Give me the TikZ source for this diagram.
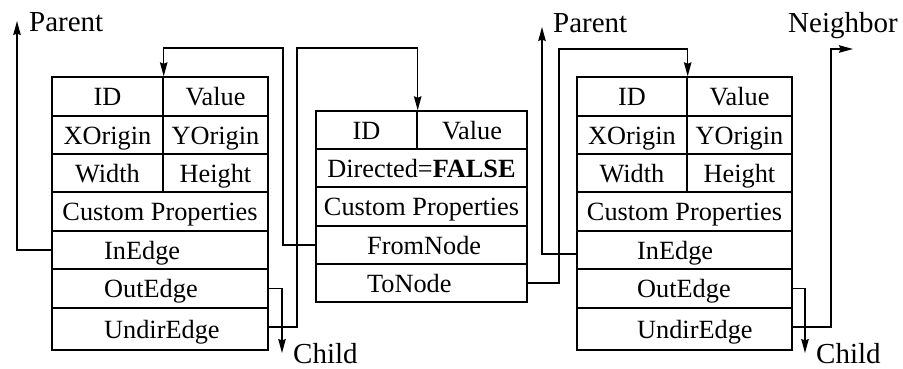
\documentclass[tikz,border=0pt]{standalone}
\usepackage{fontspec}
\setmainfont{Liberation Serif}
\usetikzlibrary{arrows.meta,calc}
\tikzset{
  ln/.style={line width=1.4pt},
  cell/.style={draw, ln, inner sep=0pt, font=\fontsize{26.3pt}{30pt}\selectfont,
    text height=19pt, text depth=1pt},
  txt/.style={inner sep=0pt, anchor=base west, font=\fontsize{26.3pt}{30pt}\selectfont},
  lbl/.style={inner sep=0pt, anchor=base west, text depth=0pt, font=\fontsize{29pt}{33pt}\selectfont},
  wire/.style={ln},
  arr/.style={ln, -{Stealth[length=14pt,width=7.5pt,inset=1.5pt]}},
}
\newcommand{\cellat}[6]{% name, cx, cy, w, h, text
  \node[cell, minimum width=#4pt, minimum height=#5pt] (#1) at (#2,#3) {#6};}
\begin{document}
\begin{tikzpicture}[x=1pt,y=-1pt]
\useasboundingbox (0,0) rectangle (903,368);

% ---- left node record ----
\cellat{L-id}{107.5}{96.5}{111}{39}{ID}
\cellat{L-val}{215.5}{96.5}{105}{39}{Value}
\cellat{L-xo}{107.5}{135}{111}{38}{XOrigin}
\cellat{L-yo}{215.5}{135}{105}{38}{YOrigin}
\cellat{L-w}{107.5}{173}{111}{38}{Width}
\cellat{L-h}{215.5}{173}{105}{38}{Height}
\cellat{L-cp}{160}{211.5}{216}{39}{Custom Properties}
\cellat{L-in}{160}{250}{216}{38}{}
\cellat{L-out}{160}{288.5}{216}{39}{}
\cellat{L-undir}{160}{329}{216}{42}{}
\node[txt] (L-in-t) at (104,259) {InEdge};
\node[txt] (L-out-t) at (104,297.5) {OutEdge};
\node[txt] (L-undir-t) at (104,338) {UndirEdge};

% ---- edge record ----
\cellat{M-id}{366.5}{130}{101}{38}{ID}
\cellat{M-val}{472}{130}{110}{38}{Value}
\cellat{M-dir}{421.5}{168}{211}{38}{Directed=\textbf{FALSE}}
\cellat{M-cp}{421.5}{206.5}{211}{39}{Custom Properties}
\cellat{M-from}{421.5}{245}{211}{38}{}
\cellat{M-to}{421.5}{283}{211}{38}{}
\node[txt] (M-from-t) at (367,254) {FromNode};
\node[txt] (M-to-t) at (367,292) {ToNode};

% ---- right node record ----
\cellat{R-id}{632}{96.5}{110}{39}{ID}
\cellat{R-val}{739.5}{96.5}{105}{39}{Value}
\cellat{R-xo}{632}{135}{110}{38}{XOrigin}
\cellat{R-yo}{739.5}{135}{105}{38}{YOrigin}
\cellat{R-w}{632}{173}{110}{38}{Width}
\cellat{R-h}{739.5}{173}{105}{38}{Height}
\cellat{R-cp}{684.5}{211.5}{215}{39}{Custom Properties}
\cellat{R-in}{684.5}{250}{215}{38}{}
\cellat{R-out}{684.5}{288.5}{215}{39}{}
\cellat{R-undir}{684.5}{329}{215}{42}{}
\node[txt] (R-in-t) at (637,259) {InEdge};
\node[txt] (R-out-t) at (637,297.5) {OutEdge};
\node[txt] (R-undir-t) at (637,338) {UndirEdge};

% ---- free ends and bends ----
\coordinate (LP) at (17,21);
\coordinate (RP) at (542,27);
\coordinate (LC) at (282,353);
\coordinate (RC) at (805,353);
\coordinate (NB) at (853,49);
\coordinate (b1) at (283,48);
\coordinate (b2) at (297,48);
\coordinate (b3) at (559,49);
\coordinate (b4) at (831,49);

% ---- connectors ----
\draw[arr] (L-in.west) -| (LP);
\draw[arr] (L-out.east) -| (LC);
\draw[arr] (M-from.west) -| (b1) -| (L-id.north east);
\draw[arr] ($(L-undir.east)+(0,-2)$) -| (b2) -| (M-id.north east);
\draw[arr] (M-to.east) -| (b3) -| (R-id.north east);
\draw[arr] ($(R-in.west)+(0,4)$) -| (RP);
\draw[arr] (R-out.east) -| (RC);
\draw[arr] ($(R-undir.east)+(0,-2)$) -| (b4) -- (NB);

% ---- labels ----
\node[lbl] (t-lp) at (29,31) {Parent};
\node[lbl] (t-rp) at (553,32) {Parent};
\node[lbl] (t-nb) at (788,32) {Neighbor};
\node[lbl] (t-lc) at (293,363) {Child};
\node[lbl] (t-rc) at (816,363) {Child};
\end{tikzpicture}
\end{document}
